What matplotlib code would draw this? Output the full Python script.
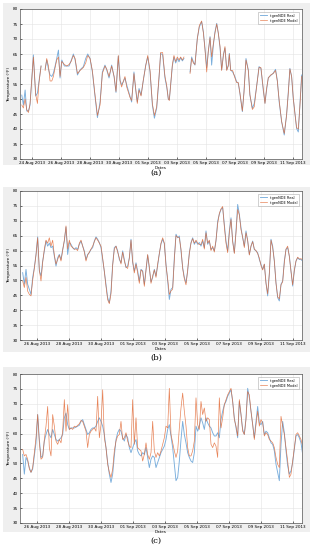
import numpy as np
import pandas as pd
import matplotlib
matplotlib.use("Agg")
import matplotlib.pyplot as plt
import matplotlib.dates as mdates
from matplotlib.patches import Rectangle

nan = np.nan
BASE = pd.Timestamp("2013-08-23")

# ---- panel (a): irregular sample times, in days after 23 Aug 2013 ----
days_a = [0.29, 0.40, 0.52, 0.63, 0.75, 0.86, 1.09, 1.25, 1.37, 1.48,
          1.62, 1.76, 1.90, 2.01, 2.13, 2.24, 2.36, 2.47, 2.59, 2.70,
          2.82, 2.93, 3.05, 3.23, 3.39, 3.55, 3.69, 3.85, 3.97, 4.13,
          4.31, 4.54, 4.70, 4.84, 5.00, 5.16, 5.34, 5.51, 5.69, 5.85,
          6.03, 6.15, 6.31, 6.49, 6.66, 6.79, 6.95, 7.07, 7.18, 7.30,
          7.41, 7.53, 7.76, 7.87, 8.03, 8.15, 8.26, 8.38, 8.52, 8.68,
          8.84, 8.98, 9.14, 9.30, 9.44, 9.60, 9.76, 9.87, 10.01, 10.17,
          10.29, 10.40, 10.47, 10.56, 10.68, 10.79, 10.91, 11.02, 11.14, 11.25,
          11.37, 11.48, 11.69, 11.90, 12.01, 12.13, 12.24, 12.40, 12.54, 12.70,
          12.82, 12.93, 13.05, 13.16, 13.28, 13.39, 13.51, 13.62, 13.74, 13.85,
          13.97, 14.08, 14.20, 14.31, 14.43, 14.54, 14.61, 14.70, 14.84, 15.00,
          15.11, 15.23, 15.34, 15.51, 15.62, 15.76, 15.92, 16.03, 16.20, 16.33,
          16.49, 16.66, 16.79, 16.95, 17.07, 17.18, 17.30, 17.46, 17.64, 17.80,
          17.92, 18.05, 18.22, 18.40, 18.56, 18.68, 18.79, 18.91, 19.02, 19.14,
          19.25, 19.37, 19.48, 19.60]

real_a = [51.3, 48, 53, 46, 46, 48, 64.7, 51, 52, 56,
          61, nan, 60, 63, 60, 58, 57.5, 58.6, 61, 63.5,
          66.3, 57, 63, 61, 61, 61, 62.7, 65, 63, 58,
          59.7, 60.8, 63.5, 65, 63.5, 59, 51, 43.8, 49, 59,
          61.3, 59.7, 57, 61.3, 57.4, 52.2, 64.3, 56.3, 54.7, 55.8,
          57, 54.7, 50.8, 49, 59, 53, 49, 53.5, 51.3, 56.3,
          61.3, 64, 59, 48, 43.6, 47, 57, 65.2, 64.7, 57,
          54, 50, 49.7, 54.7, 61, 64, 62, 63.5, 62.4, 63.8,
          62.7, 63.5, nan, 59, 64, 62.4, 61.3, 70.2, 74, 75.8,
          72.4, 66.9, 60.5, 65.8, 70.8, 61.3, 68, 72.4, 75.2, 71.9,
          67, 59.7, 64.7, 67, 59.7, 61.3, 65.2, 59.7, 59, 57.4,
          55.8, 55.2, 51.9, 45.8, 52.4, 63.5, 59.7, 51.3, 46.9, 48.5,
          54.1, 60.8, 60.2, 53, 48.6, 53, 57.1, 57.8, 58.6, 59.9,
          56.3, 49, 42.4, 38, 44.7, 52.4, 60.2, 57.4, 50.2, 45.2,
          40.2, 39, 48, 58]

model_a = [48, 47, 50, 46.5, 45.5, 48.5, 64, 51.5, 48.5, 55.5,
           61, nan, 59.5, 63.5, 61, 56, 56, 57.5, 60.5, 63,
           64, 57.5, 62.5, 61.5, 61, 61.5, 62.5, 64.5, 63.5, 58.5,
           59.5, 60.5, 62, 64.5, 63.5, 59.5, 51.5, 44.5, 48, 58.5,
           61, 60, 57.5, 61, 57.5, 52.5, 64.5, 56, 54, 56,
           57.5, 54, 50.5, 49.5, 58.5, 53.5, 48.5, 53, 51, 56.5,
           61, 64.5, 59.5, 48.5, 44.5, 47.5, 57.5, 65.5, 65.5, 57.5,
           54.5, 50, 49.5, 54.5, 61.5, 64.5, 62.5, 64, 63, 64,
           63, 64, nan, 58.5, 63.5, 62, 61.5, 70, 74.5, 76,
           72, 66.5, 59, 66, 70.5, 64, 68.5, 72, 75, 72,
           67.5, 59.5, 64.5, 67.5, 59.5, 61, 65, 59.5, 59.5, 57,
           55.5, 55.5, 52, 46, 52, 63, 59.5, 51.5, 46.5, 47.4,
           54, 60.5, 60.5, 53.5, 48.5, 53.5, 57, 58, 58.5, 59.5,
           56, 49.5, 42.5, 38.5, 44.5, 52, 60, 57.5, 50.5, 45,
           40.5, 40, 47.5, 57.5]

# ---- panel (b): every 2.5 h from 25 Aug 02:30 ----
real_b = [52.6, 48.7, 53.7, 48.7, 47, 45.3, 51, 54.3, 58.7, 64.6,
          53.2, 51.5, 56.5, 59.9, 63.2, 61.5, 62.5, 61, 61.5, 58.2,
          54.8, 57.6, 58.7, 57, 60.4, 63.2, 67.9, 58.7, 62.7, 62.1,
          61, 60.4, 61, 60.4, 62.1, 63.2, 61.5, 59.9, 57, 58.7,
          59.3, 60.4, 61, 63.2, 64.6, 63.8, 62.7, 61, 57, 53,
          48.7, 44.2, 42.5, 46.4, 55.4, 61, 61.5, 59.9, 57, 55.9,
          59.9, 57, 54.3, 54.8, 57.6, 63.8, 55.9, 53.2, 55.9, 53.2,
          49.8, 53.7, 53.2, 48.7, 53.7, 58.5, 54, 49.5, 51, 53.7,
          51.5, 55, 59, 62.3, 63.8, 62.3,
          55.4, 49.8, 43.6, 47, 47.6, 57.6, 65.5, 64.3, 64.9, 59.9,
          54.3, 51, 49.2, 53.2, 59.3, 62.7, 64.3, 62.1, 63.2, 62.1,
          62.7, 61.5, 63.2, 61, 66.6, 62.1, 63.2, 60.4, 61, 59.9,
          63.2, 69.9, 72.2, 73.8, 74.4, 68.8, 63.2, 59.9, 66.6, 71,
          63.2, 59.3, 66.6, 75.5, 72.2, 67.7, 64.3, 61.5, 66.6, 63.2,
          58.7, 61.5, 63.2, 60.4, 59.9, 59.3, 57, 55.4, 53.7, 55.4,
          49.2, 44.8, 52, 63.8, 61.5, 56.5, 49.2, 44.2, 43.1, 48.7,
          49.8, 56.5, 60.4, 61, 58.2, 53.2, 48.1, 53.2, 56.5, 57.6,
          57, 57, 56.5]

model_b = [49.8, 47.6, 51, 46.4, 45.3, 44.8, 50, 54, 58.5, 64.3,
           53.5, 49.8, 56, 60.5, 63.5, 62.5, 64.3, 61.5, 63.5, 58.5,
           55.5, 57, 58.5, 56.5, 60, 63.5, 68.3, 60.5, 63.5, 61.5,
           61, 60.5, 60.5, 60, 62.5, 63.5, 61.5, 59.5, 56.5, 58.5,
           59.5, 60.5, 61.5, 63, 64.3, 63.5, 62.5, 61.5, 57.5, 53,
           48, 43.5, 42.2, 45.5, 55, 60.5, 61.5, 59.5, 57.5, 55.5,
           59.5, 56.5, 54.5, 54, 57.5, 63.5, 56.5, 52.5, 55.5, 52.5,
           49, 53.5, 53, 48, 53.5, 58.7, 54.5, 49, 51.5, 53.5,
           51, 55.5, 59, 62.5, 64.3, 62.5,
           55, 50.5, 45.3, 46.5, 47, 57, 65, 64.5, 64.3, 60.5,
           54, 50.5, 48.5, 53.5, 59, 62.5, 64, 62.5, 63.5, 62.5,
           62, 62, 63.8, 60.5, 66, 62.5, 63.5, 60, 61.5, 59.5,
           63.5, 69, 72.5, 74, 74.8, 68, 62.5, 59.3, 66, 70.5,
           63, 59, 66, 73.8, 72, 67, 64.5, 61, 66, 63.5,
           58.5, 61.5, 63, 60.5, 60, 59, 57.5, 55, 53.5, 55.5,
           49, 45.5, 52.5, 63.5, 61, 56.5, 49, 44.5, 43.8, 48.5,
           49.5, 56, 60.5, 61.5, 58, 53, 48.5, 53.5, 56.5, 57.8,
           57.2, 57.3, 56.8]

# ---- panel (c): every 2.5 h from 25 Aug 02:30 ----
real_c = [53, 46.4, 52, 50.8, 48.6, 47, 48.1, 52.5, 56.9, 66.4,
          58, 52, 52.5, 57.5, 59.7, 61.4, 59.7, 58.6, 61.4, 59.7,
          58, 57.5, 58, 58.6, 59.7, 65.3, 66.9, 63, 61.4, 61.9,
          61.9, 61.9, 62.2, 62.5, 62.8, 64.1, 64.7, 63, 61.4, 59.7,
          60.3, 61.4, 61.9, 61.9, 62.5, 64.1, 65.3, 64.1, 62.5, 59.7,
          55.3, 50.3, 46.4, 43.6, 46.4, 52.5, 58, 60.3, 61.4, 60.8,
          58.6, 57.5, 59.7, 58.6, 55.3, 53.6, 55.3, 56.9, 58, 54.2,
          53, 52.5, 53.6, 53, 55.3, 52, 48.6, 51.4, 52.5, 52,
          48.6, 50.3, 52, 53.6, 54.7, 55.8,
          58, 61.4, 63, 59.2, 55.3, 49.7, 44.2, 45.3, 50.8, 58,
          64.1, 59.7, 56.9, 53.6, 52, 50.8, 50.3, 53.6, 62.5, 60.8,
          62.5, 65.3, 63.6, 61.4, 65.3, 63.6, 62.5, 61.9, 60.3, 59.2,
          59.2, 60.3, 58.6, 64.7, 67.5, 69.7, 70.8, 72.5, 73.6, 74.7,
          70.8, 65.3, 61.9, 58.6, 70.8, 66.4, 61.4, 59.7, 65.3, 75.2,
          72, 67.5, 63, 58.6, 64.1, 69.1, 63.6, 63, 64.1, 59.7,
          60.8, 60.3, 58.6, 56.9, 56.4, 54.2, 49.7, 47, 44.2, 56.4,
          64.1, 60.3, 54.2, 49.2, 46.4, 47.5, 50.3, 54.7, 59.2, 59.7,
          58.6, 56.9, 53]

model_c = [54.7, 52.5, 53, 51.4, 48.1, 47, 48.6, 53.6, 58.6, 66.4,
           56.9, 51.4, 52, 58, 62.5, 69.1, 55.3, 52.5, 66.4, 62.5,
           57.5, 56.4, 58, 56.9, 60.8, 71.4, 60.8, 69.7, 61.4, 61.9,
           61.4, 62.5, 62.2, 62.8, 63.3, 64.4, 64.1, 62.5, 60.8, 55.3,
           59.7, 60.8, 61.4, 61.9, 60.8, 72.5, 58.6, 63, 74.7, 58.6,
           55.3, 49.7, 47, 45.3, 48.1, 54.2, 57.5, 59.2, 59.7, 64.1,
           58, 58.6, 60.3, 57.5, 55.8, 55.3, 71.4, 56.4, 65.3, 55.3,
           54.7, 54.2, 50.8, 53, 56.9, 53, 51.4, 53.6, 64.1, 54.2,
           52, 53.6, 52.5, 54.2, 56.4, 58.6,
           62.5, 61.9, 75.2, 59.7, 56.9, 54.2, 52, 54.2, 61.9, 68.6,
           73.6, 67.5, 62.5, 55.3, 52.5, 52.5, 54.2, 57.5, 72, 63,
           61.4, 70.8, 66.4, 68.6, 64.1, 65.3, 64.7, 56.4, 55.3, 56.9,
           55.8, 52, 72, 61.9, 65.3, 69.7, 71.4, 73, 74.1, 75.2,
           70.8, 64.7, 62.5, 59.2, 71.4, 66.4, 60.8, 59.7, 64.7, 74.1,
           73, 67.5, 63, 58, 63, 67.5, 62.5, 64.7, 63.6, 59.2,
           60.3, 59.7, 58, 57.5, 56.9, 55.3, 52, 49.7, 48.6, 65.8,
           62.5, 59.7, 55.3, 50.8, 45.3, 46.4, 50.8, 55.3, 59.7, 60.3,
           59.2, 58, 55.8]

labels = ["tgenNDE Real", "tgenNDE Model"]
BLUE = "#7aaedc"
ORANGE = "#e2652f"

t_a = BASE + pd.to_timedelta(days_a, unit="D")
t_b = pd.date_range("2013-08-25 02:30", periods=len(real_b), freq="150min")
t_c = pd.date_range("2013-08-25 02:30", periods=len(real_c), freq="150min")

W, H = 313, 550
fig = plt.figure(figsize=(W / 100, H / 100), dpi=100)


def fx(px):
    return px / W


def fy(py):
    return 1 - py / H


def draw_panel(t, real, model, box, ax_rect, xlim, first_tick, tag, tag_y):
    x0, y0, x1, y1 = box
    fig.add_artist(Rectangle((fx(x0), fy(y1)), fx(x1 - x0), (y1 - y0) / H,
                             transform=fig.transFigure, facecolor="#efefef",
                             edgecolor="none", zorder=0))
    l, t0, r, b = ax_rect
    ax = fig.add_axes([fx(l), fy(b), fx(r - l), (b - t0) / H])
    ax.set_facecolor("white")
    ax.plot(t, real, color=BLUE, lw=0.65, label=labels[0])
    ax.plot(t, model, color=ORANGE, lw=0.5, alpha=0.8, label=labels[1])
    ax.set_ylim(30, 80)
    ax.set_yticks(np.arange(30, 81, 5))
    ax.set_xlim(pd.Timestamp(xlim[0]), pd.Timestamp(xlim[1]))
    ax.set_xticks(pd.date_range(first_tick, "2013-09-11", freq="2D"))
    ax.xaxis.set_major_formatter(mdates.DateFormatter("%d %b %Y"))
    ax.grid(True, color="#e3e3e3", lw=0.4)
    ax.set_axisbelow(True)
    ax.tick_params(direction="in", length=1.5, width=0.4, labelsize=3, pad=1.5)
    for s in ax.spines.values():
        s.set_linewidth(0.5)
        s.set_color("#555555")
    ax.set_ylabel("Temperature (°F)", fontsize=3, labelpad=1)
    ax.set_xlabel("Dates", fontsize=3, labelpad=0.5)
    leg = ax.legend(loc="upper right", fontsize=2.5, frameon=True, fancybox=False,
                    handlelength=2.2, borderpad=0.5, labelspacing=0.3,
                    borderaxespad=0.8)
    leg.get_frame().set_linewidth(0.4)
    leg.get_frame().set_edgecolor("#999999")
    fig.text(fx(156), fy(tag_y), tag, ha="center", va="center",
             fontsize=6, family="DejaVu Serif")
    return ax


draw_panel(t_a, real_a, model_a, (3, 3, 310, 165), (20, 9, 302, 159),
           ("2013-08-23 04:00", "2013-09-11 15:00"), "2013-08-24", "(a)", 173)
draw_panel(t_b, real_b, model_b, (3, 187, 310, 352), (20, 191, 302, 340),
           ("2013-08-24 22:30", "2013-09-11 13:30"), "2013-08-26", "(b)", 358)
draw_panel(t_c, real_c, model_c, (3, 367, 310, 532), (20, 374, 302, 523),
           ("2013-08-24 22:30", "2013-09-11 13:30"), "2013-08-26", "(c)", 541)

fig.savefig("out.png", dpi=100, facecolor="white")
